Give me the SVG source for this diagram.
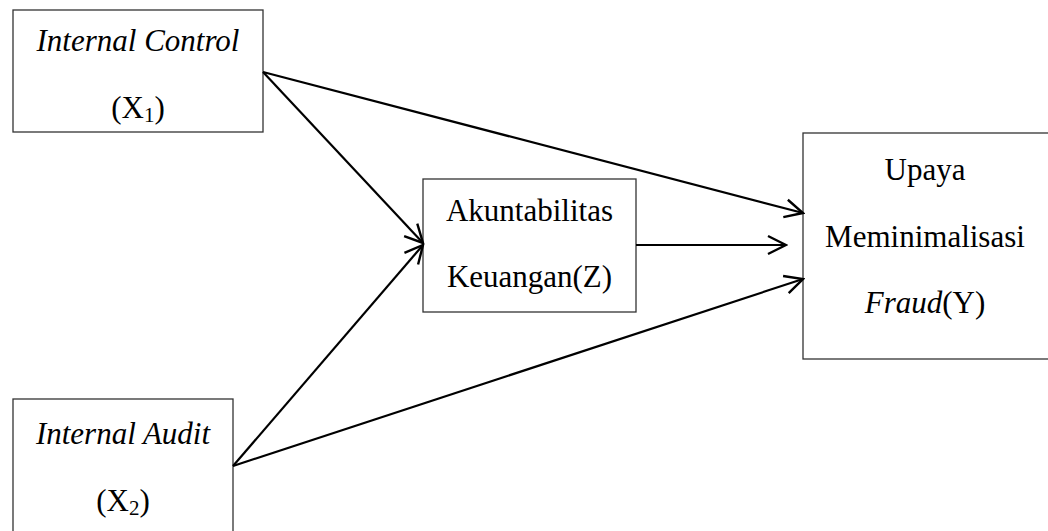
<svg xmlns="http://www.w3.org/2000/svg" width="1048" height="531" viewBox="0 0 1048 531">
<style>
.box{fill:#fff;stroke:#333;stroke-width:1.3}
.t{font-family:"Liberation Serif","Times New Roman",serif;font-size:31px;fill:#000;text-anchor:middle}
.i{font-style:italic}
.c{stroke:#000;stroke-width:2.2;fill:none}
</style>
<defs>
<marker id="ah" viewBox="0 0 22 22" refX="20" refY="11" markerWidth="22" markerHeight="22" markerUnits="userSpaceOnUse" orient="auto">
<path d="M2,2 L20,11 L2,20" fill="none" stroke="#000" stroke-width="2.4"/>
</marker>
</defs>
<g id="x1">
<rect class="box" x="13" y="10" width="250" height="122"/>
<text class="t i" x="138" y="51">Internal Control</text>
<text class="t" x="138" y="118">(X<tspan font-size="21" dy="4">1</tspan><tspan dy="-4">)</tspan></text>
</g>
<g id="x2">
<rect class="box" x="13" y="399" width="220" height="140"/>
<text class="t i" x="123" y="444">Internal Audit</text>
<text class="t" x="123" y="511">(X<tspan font-size="21" dy="4">2</tspan><tspan dy="-4">)</tspan></text>
</g>
<g id="z">
<rect class="box" x="423" y="179" width="213" height="133"/>
<text class="t" x="529.5" y="221">Akuntabilitas</text>
<text class="t" x="529.5" y="287">Keuangan(Z)</text>
</g>
<g id="y">
<rect class="box" x="803" y="133" width="250" height="226"/>
<text class="t" x="925" y="180">Upaya</text>
<text class="t" x="925" y="247">Meminimalisasi</text>
<text class="t" x="925" y="313"><tspan class="i">Fraud</tspan>(Y)</text>
</g>
<g id="connectors">
<line class="c" x1="263" y1="72" x2="803" y2="213" marker-end="url(#ah)"/>
<line class="c" x1="263" y1="72" x2="423" y2="243" marker-end="url(#ah)"/>
<line class="c" x1="233" y1="466" x2="423" y2="245" marker-end="url(#ah)"/>
<line class="c" x1="233" y1="466" x2="803" y2="279" marker-end="url(#ah)"/>
<line class="c" x1="636" y1="245" x2="786" y2="245" marker-end="url(#ah)"/>
</g>
</svg>
